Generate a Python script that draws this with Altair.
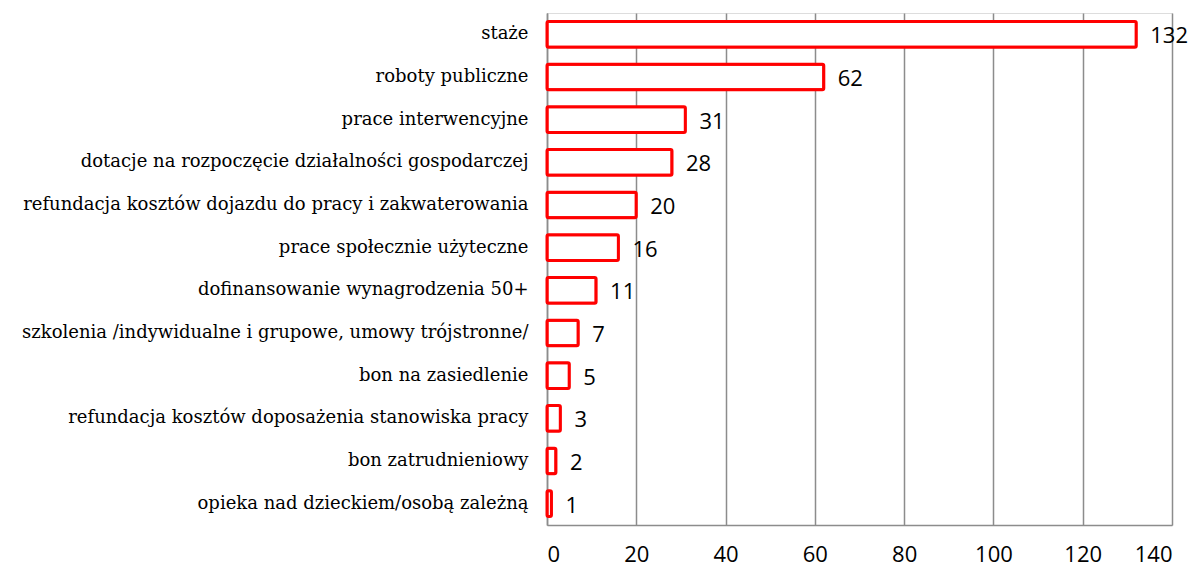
import altair as alt
import pandas as pd

categories = [
    "staże",
    "roboty publiczne",
    "prace interwencyjne",
    "dotacje na rozpoczęcie działalności gospodarczej",
    "refundacja kosztów dojazdu do pracy i zakwaterowania",
    "prace społecznie użyteczne",
    "dofinansowanie wynagrodzenia 50+",
    "szkolenia /indywidualne i grupowe, umowy trójstronne/",
    "bon na  zasiedlenie",
    "refundacja kosztów doposażenia stanowiska pracy",
    "bon zatrudnieniowy",
    "opieka nad dzieckiem/osobą zależną",
]
values = [132, 62, 31, 28, 20, 16, 11, 7, 5, 3, 2, 1]
x_ticks = [0, 20, 40, 60, 80, 100, 120, 140]

df = pd.DataFrame({"cat": categories, "val": values})

y_enc = alt.Y(
    "cat:N",
    sort=categories,
    title=None,
    scale=alt.Scale(paddingInner=0.4, paddingOuter=0.2),
    axis=alt.Axis(
        labelFont="DejaVu Serif",
        labelFontSize=18,
        labelColor="#000000",
        labelPadding=19,
        labelLimit=600,
        ticks=False,
        domainColor="#8c8c8c",
        domainWidth=1.5,
    ),
)
x_enc = alt.X(
    "val:Q",
    title=None,
    scale=alt.Scale(domain=[0, 140], nice=False),
    axis=alt.Axis(
        values=x_ticks,
        labelFont="Open Sans",
        labelFontSize=22,
        labelColor="#000000",
        labelPadding=19,
        ticks=False,
        grid=True,
        gridColor="#8c8c8c",
        gridWidth=1.5,
        domainColor="#8c8c8c",
        domainWidth=1.5,
    ),
)

bars = alt.Chart(df).mark_bar(
    fill="#ffffff", stroke="#ff0000", strokeWidth=3, cornerRadius=1.5
).encode(x=x_enc, y=y_enc)

labels = alt.Chart(df).mark_text(
    align="left", baseline="middle", dx=14, dy=2,
    font="Open Sans", fontSize=22, color="#000000"
).encode(x="val:Q", y=alt.Y("cat:N", sort=categories), text="val:Q")

chart = (bars + labels).properties(
    width=625,
    height=512,
    autosize=alt.AutoSizeParams(type="none"),
    padding={"left": 539, "top": 5, "right": 17, "bottom": 45},
).configure_view(stroke=None).configure(background="#ffffff")

chart.save("out.html", embed_options={"renderer": "svg", "actions": False})
